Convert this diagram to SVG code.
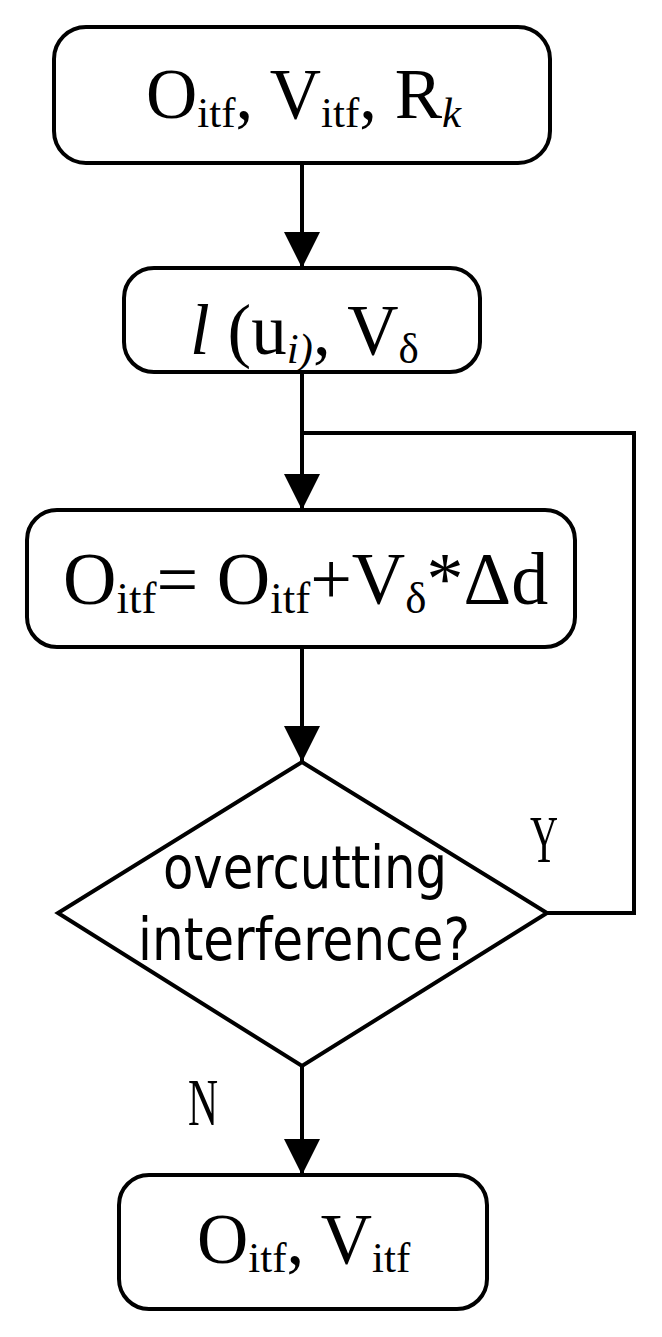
<svg xmlns="http://www.w3.org/2000/svg" width="662" height="1337" viewBox="0 0 662 1337">
<style>
.box{fill:#fff;stroke:#000;stroke-width:4}
.ln{fill:none;stroke:#000;stroke-width:4}
.t{font-family:"Liberation Serif","Times New Roman",serif;font-size:71px;fill:#000}
.s{font-size:43px}
.i{font-style:italic}
.d{font-family:"Liberation Sans Narrow","DejaVu Sans Condensed","Liberation Sans",sans-serif;font-size:58px;fill:#000}
.yn{font-family:"Liberation Serif",serif;font-size:68px;fill:#000}
</style>
<defs>
<marker id="arr" markerUnits="userSpaceOnUse" markerWidth="36" markerHeight="36" viewBox="0 0 36 36" refX="36" refY="18" orient="auto">
<path d="M0,0 L36,18 L0,36 Z" fill="#000"/>
</marker>
</defs>
<rect width="662" height="1337" fill="#fff"/>
<g id="connectors">
<line class="ln" x1="302" y1="164" x2="302" y2="268" marker-end="url(#arr)"/>
<line class="ln" x1="302" y1="372" x2="302" y2="510" marker-end="url(#arr)"/>
<line class="ln" x1="302" y1="647" x2="302" y2="762" marker-end="url(#arr)"/>
<line class="ln" x1="302" y1="1066" x2="302" y2="1175" marker-end="url(#arr)"/>
<polyline class="ln" points="547,913 634,913 634,433 302,433"/>
<text class="yn" x="544" y="862" text-anchor="middle" textLength="28" lengthAdjust="spacingAndGlyphs">Y</text>
<text class="yn" x="203" y="1125" text-anchor="middle" textLength="30" lengthAdjust="spacingAndGlyphs">N</text>
</g>
<g id="n1">
<rect class="box" x="54" y="27" width="496" height="136" rx="32"/>
<text class="t" x="146" y="118">O<tspan class="s" dy="9">itf</tspan><tspan dy="-9">, V</tspan><tspan class="s" dy="9">itf</tspan><tspan dy="-9">, R</tspan><tspan class="s i" dy="9">k</tspan></text>
</g>
<g id="n2">
<rect class="box" x="124" y="268" width="356" height="104" rx="30"/>
<text class="t" x="190" y="354"><tspan class="i">l</tspan> (u<tspan class="s i" dy="9">i)</tspan><tspan dy="-9">, V</tspan><tspan class="s" dy="9">δ</tspan></text>
</g>
<g id="n3">
<rect class="box" x="27" y="510" width="548" height="137" rx="30"/>
<text class="t" x="63" y="604" style="font-size:74px">O<tspan class="s" style="font-size:45px" dy="9">itf</tspan><tspan dy="-9">= O</tspan><tspan class="s" style="font-size:45px" dy="9">itf</tspan><tspan dy="-9">+V</tspan><tspan class="s" style="font-size:45px" dy="9">δ</tspan><tspan dy="-9">*Δd</tspan></text>
</g>
<g id="n4">
<polygon class="box" points="302,762 547,913 302,1066 58,913"/>
<text class="d" x="305" y="888" text-anchor="middle" textLength="284" lengthAdjust="spacingAndGlyphs">overcutting</text>
<text class="d" x="304" y="960" text-anchor="middle" textLength="332" lengthAdjust="spacingAndGlyphs">interference?</text>
</g>
<g id="n5">
<rect class="box" x="119" y="1175" width="368" height="134" rx="30"/>
<text class="t" x="197" y="1263">O<tspan class="s" dy="9">itf</tspan><tspan dy="-9">, V</tspan><tspan class="s" dy="9">itf</tspan></text>
</g>
</svg>
